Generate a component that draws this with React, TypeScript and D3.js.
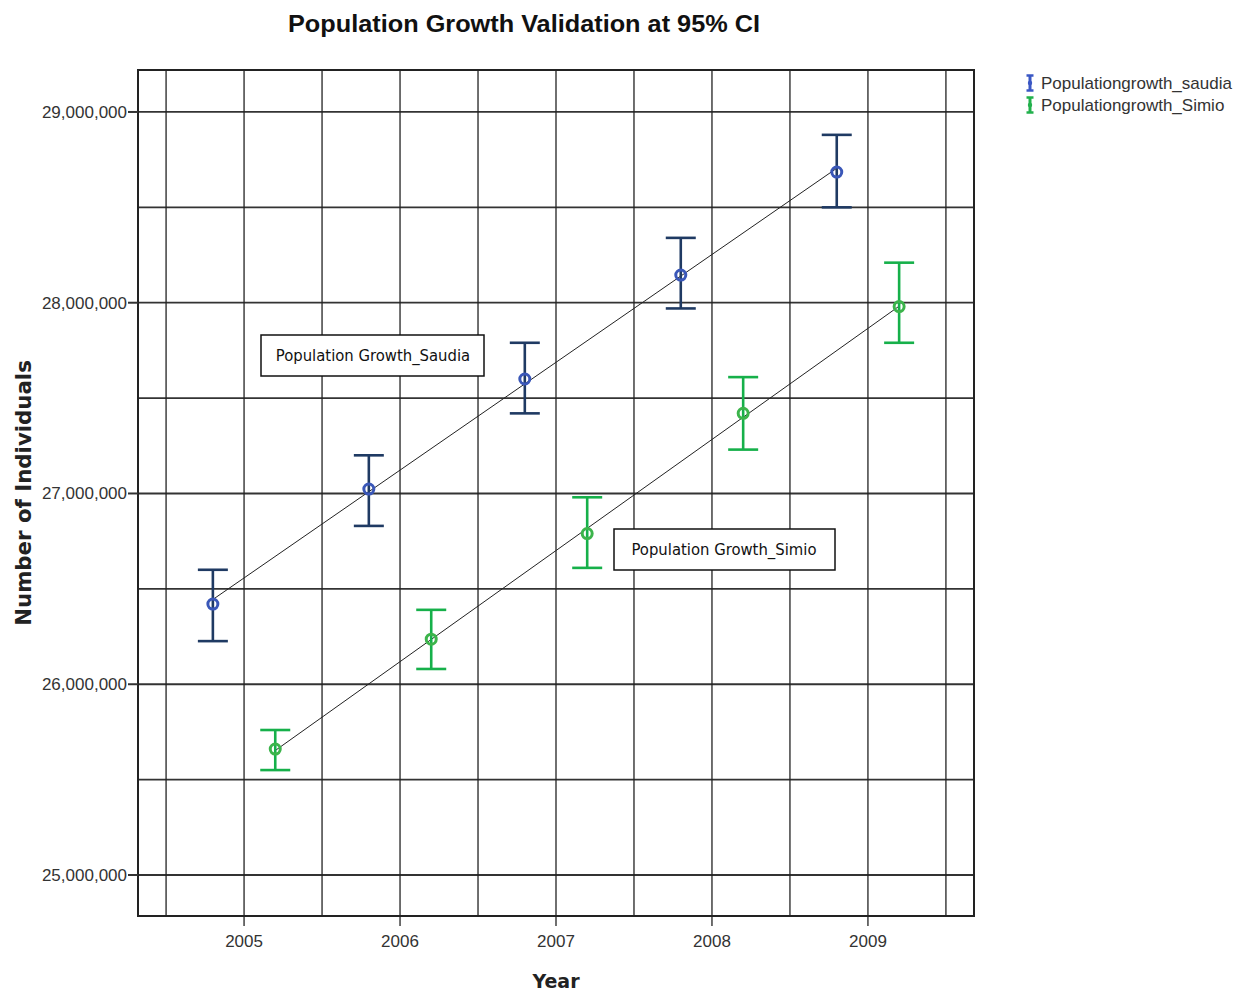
import React from "react";
import * as d3 from "d3";

const years = [2005, 2006, 2007, 2008, 2009];
const saudiaMean = [26.42, 27.023, 27.6, 28.145, 28.685];
const saudiaLow = [26.226, 26.83, 27.42, 27.97, 28.5];
const saudiaHigh = [26.6, 27.2, 27.79, 28.34, 28.88];
const simioMean = [25.66, 26.236, 26.79, 27.42, 27.98];
const simioLow = [25.55, 26.08, 26.61, 27.23, 27.79];
const simioHigh = [25.76, 26.39, 26.98, 27.61, 28.21];
const yTicks = [25, 26, 27, 28, 29];
const yGrid = [25, 25.5, 26, 26.5, 27, 27.5, 28, 28.5, 29];
const xGrid = [2004.5, 2005, 2005.5, 2006, 2006.5, 2007, 2007.5, 2008, 2008.5, 2009, 2009.5];

const W = 1251, H = 996;
const left = 138, right = 974, top = 70, bottom = 916;

function fit(xs: number[], ys: number[]) {
  const mx = d3.mean(xs)!, my = d3.mean(ys)!;
  let sxy = 0, sxx = 0;
  xs.forEach((x, i) => { sxy += (x - mx) * (ys[i] - my); sxx += (x - mx) ** 2; });
  const b = sxy / sxx;
  return (x: number) => my + b * (x - mx);
}

export default function App() {
  const x = d3.scaleLinear().domain([2004.32, 2009.68]).range([left, right]);
  const y = d3.scaleLinear().domain([24.785, 29.22]).range([bottom, top]);
  const fmt = d3.format(",");

  const series = [
    { name: "saudia", mean: saudiaMean, low: saudiaLow, high: saudiaHigh, off: -0.2, bar: "#1f3a63", mark: "#3a57b8" },
    { name: "simio", mean: simioMean, low: simioLow, high: simioHigh, off: 0.2, bar: "#16b04a", mark: "#3cb44b" },
  ];

  return (
    <svg width={W} height={H} style={{ display: "block", position: "absolute", left: 0, top: 0 }} fontFamily="'Liberation Sans', Arial, sans-serif">
      <rect x={0} y={0} width={W} height={H} fill="#fff" />
      <text x={524} y={32} textAnchor="middle" fontSize={24.5} fontWeight="bold" fill="#111" textLength={472} lengthAdjust="spacingAndGlyphs">Population Growth Validation at 95% CI</text>

      {yGrid.map((v) => (
        <line key={"yg" + v} x1={left} x2={right} y1={y(v)} y2={y(v)} stroke="#333" strokeWidth={1.8} />
      ))}
      {xGrid.map((v) => (
        <line key={"xg" + v} x1={x(v)} x2={x(v)} y1={top} y2={bottom} stroke="#222" strokeWidth={1.3} />
      ))}
      <rect x={left} y={top} width={right - left} height={bottom - top} fill="none" stroke="#222" strokeWidth={2} />

      {yTicks.map((v) => (
        <g key={"yt" + v}>
          <line x1={left - 10} x2={left} y1={y(v)} y2={y(v)} stroke="#333" strokeWidth={2} />
          <text x={left - 11} y={y(v) + 6} textAnchor="end" fontSize={17} fill="#333">{fmt(v * 1e6)}</text>
        </g>
      ))}
      {years.map((v) => (
        <g key={"xt" + v}>
          <line x1={x(v)} x2={x(v)} y1={bottom} y2={bottom + 10} stroke="#222" strokeWidth={1.3} />
          <text x={x(v)} y={bottom + 31} textAnchor="middle" fontSize={17} fill="#333">{v}</text>
        </g>
      ))}

      <text x={556} y={988} textAnchor="middle" fontSize={19} fontWeight="bold" fill="#222" fontFamily="'DejaVu Sans', sans-serif">Year</text>
      <text transform={`translate(31,493) rotate(-90)`} textAnchor="middle" fontSize={21.3} fontWeight="bold" fill="#222" fontFamily="'DejaVu Sans', sans-serif">Number of Individuals</text>

      {series.map((s) => {
        const xs = years.map((v) => v + s.off);
        const f = fit(xs, s.mean);
        const x0 = xs[0], x1 = xs[xs.length - 1];
        return (
          <g key={s.name}>
            <line x1={x(x0)} y1={y(f(x0))} x2={x(x1)} y2={y(f(x1))} stroke="#222" strokeWidth={1} />
            {xs.map((xv, i) => (
              <g key={i}>
                <line x1={x(xv)} x2={x(xv)} y1={y(s.low[i])} y2={y(s.high[i])} stroke={s.bar} strokeWidth={2.6} />
                <line x1={x(xv) - 15} x2={x(xv) + 15} y1={y(s.low[i])} y2={y(s.low[i])} stroke={s.bar} strokeWidth={2.6} />
                <line x1={x(xv) - 15} x2={x(xv) + 15} y1={y(s.high[i])} y2={y(s.high[i])} stroke={s.bar} strokeWidth={2.6} />
                <circle cx={x(xv)} cy={y(s.mean[i])} r={5} fill="none" stroke={s.mark} strokeWidth={3} />
              </g>
            ))}
          </g>
        );
      })}

      <g>
        <rect x={261} y={335} width={223} height={41} fill="#fff" stroke="#111" strokeWidth={1.5} />
        <text x={373} y={361} textAnchor="middle" fontSize={16.5} fill="#111" fontFamily="'Liberation Sans Narrow', 'DejaVu Sans Condensed', sans-serif">Population Growth_Saudia</text>
        <rect x={614} y={529} width={221} height={41} fill="#fff" stroke="#111" strokeWidth={1.5} />
        <text x={724} y={555} textAnchor="middle" fontSize={16.5} fill="#111" fontFamily="'Liberation Sans Narrow', 'DejaVu Sans Condensed', sans-serif">Population Growth_Simio</text>
      </g>

      {[{ label: "Populationgrowth_saudia", c: "#3a57c4", yy: 83 }, { label: "Populationgrowth_Simio", c: "#22b14c", yy: 105 }].map((l) => (
        <g key={l.label}>
          <line x1={1030} x2={1030} y1={l.yy - 8} y2={l.yy + 8} stroke={l.c} strokeWidth={3} />
          <line x1={1026.5} x2={1033.5} y1={l.yy - 7.5} y2={l.yy - 7.5} stroke={l.c} strokeWidth={2.5} />
          <line x1={1026.5} x2={1033.5} y1={l.yy + 7.5} y2={l.yy + 7.5} stroke={l.c} strokeWidth={2.5} />
          <circle cx={1030} cy={l.yy} r={2.2} fill={l.c} />
          <text x={1041} y={l.yy + 6} fontSize={17} fill="#333">{l.label}</text>
        </g>
      ))}
    </svg>
  );
}
